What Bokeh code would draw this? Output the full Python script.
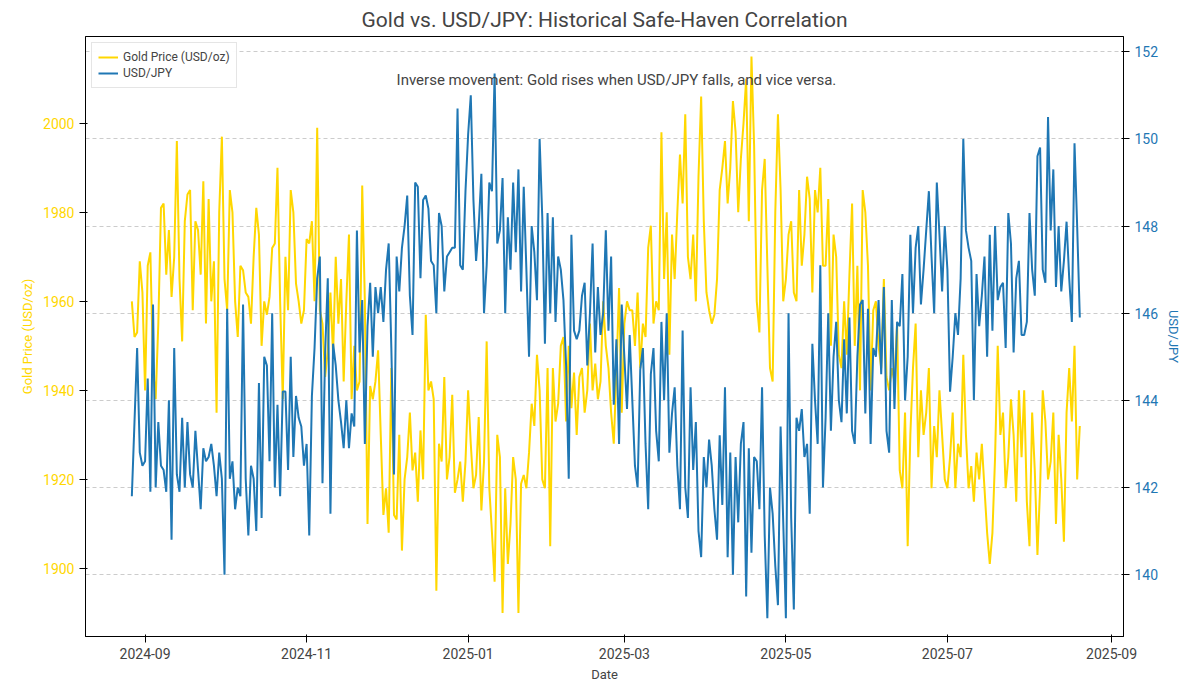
import datetime as dt
from bokeh.plotting import figure
from bokeh.models import (LinearAxis, Range1d, Legend, LegendItem, Label, Grid,
                          DatetimeTickFormatter, MonthsTicker, SingleIntervalTicker)
from bokeh.embed import file_html
from bokeh.resources import INLINE

start_date = dt.date(2024, 8, 27)

gold = (
 [1960,1952,1953,1969,1962,1940,1968,1971,1945,1938,1955,1981,1982,1966,1976,1961,1970,1996,1965,1951,1978,1984,1985,1958,1978,1976,1966,1987,1955,1983,1960,1969,1935,1980,1997]
 +[1965,1958,1985,1980,1960,1952,1968,1967,1962,1961,1955,1970,1981,1975,1950,1960,1957,1961,1972,1973,1990,1960,1938,1970,1958,1985,1980,1964,1960,1955,1958]
 +[1974,1973,1978,1960,1999,1958,1955,1943,1949,1962,1948,1970,1955,1965,1942,1960,1975,1938,1950,1940,1942,1986,1960,1910,1941,1938,1942,1949,1930,1912]
 +[1918,1908,1945,1912,1911,1930,1904,1920,1925,1935,1922,1926,1915,1931,1920,1957,1940,1942,1938,1895,1928,1924,1943,1920,1925,1939,1917,1920,1924,1915,1924]
 +[1940,1928,1918,1921,1934,1913,1924,1951,1918,1908,1897,1930,1925,1890,1918,1901,1910,1925,1920,1890,1919,1921,1918,1926,1937,1932,1948,1940,1920,1918,1945]
 +[1905,1945,1933,1937,1950,1952,1933,1950,1936,1944,1930,1943,1945,1935,1940,1955,1940,1946,1938,1942,1960,1950,1945,1935,1928,1944,1963,1935]
 +[1955,1960,1958,1958,1950,1962,1945,1955,1952,1972,1977,1955,1960,1958,1998,1965,1980,1948,1975,1965,1980,1993,1982,2002,1970,1965,1975,1960,1988,2006,1978]
 +[1962,1958,1955,1957,1965,1985,1990,1996,1982,1990,2005,1998,1980,1992,2000,2010,1978,2015,1995,1960,1953,1985,1992,1968,1945,1942,1980,2002,1985,1960]
 +[1965,1975,1978,1962,1960,1985,1968,1975,1988,1983,1962,1985,1980,1990,1968,1968,1983,1950,1975,1970,1948,1945,1960,1948,1966,1982,1950,1968,1940,1985,1980]
 +[1968,1940,1958,1960,1950,1945,1965,1943,1940,1945,1942,1955,1922,1918,1935,1905,1930,1945,1955,1925,1940,1930,1935,1945,1918,1932,1925,1940,1930,1920]
 +[1918,1925,1935,1918,1928,1925,1948,1930,1918,1923,1915,1926,1920,1928,1918,1908,1901,1908,1925,1950,1930,1935,1918,1925,1938,1930,1915,1940,1925,1940,1915]
 +[1905,1935,1922,1903,1918,1940,1933,1920,1924,1935,1910,1930,1920,1906,1935,1945,1933,1950,1920,1932]
)

usdjpy = (
 [141.8,143.5,145.2,142.8,142.5,142.6,144.5,141.9,146.2,142.0,143.5,142.5,142.4,141.9,144.0,140.8,145.2,142.3,141.9,143.6,142.0,143.5,142.3,142.0,143.3,142.4,141.5,142.9,142.6,142.7,143.0,142.5,141.8,142.8,142.2]
 +[140.0,146.1,142.2,142.6,141.5,142.0,141.8,146.2,142.2,140.9,142.5,142.2,141.0,144.4,141.3,145.0,144.8,142.6,146.0,142.0,143.9,141.8,144.2,144.2,142.4,145.0,142.7,144.1,143.6,143.4,142.5]
 +[143.0,140.9,144.1,145.2,146.8,147.3,142.1,145.1,146.8,141.4,145.3,144.8,144.0,143.5,142.9,144.0,142.9,143.7,143.4,147.9,145.1,146.3,143.0,145.7,146.7,145.0,146.6,146.0,146.6,145.8]
 +[147.0,147.6,145.2,142.3,147.3,146.5,147.5,148.0,148.7,146.4,145.5,149.0,148.9,146.8,148.6,148.7,148.4,147.2,147.1,146.0,148.3,148.0,146.5,147.3,147.4,147.5,147.5,150.7,147.1,147.0,148.8]
 +[150.1,151.0,148.6,147.2,148.0,149.2,146.0,147.1,149.0,148.8,151.5,147.6,147.9,149.1,146.0,148.2,147.0,149.0,147.4,149.3,146.5,148.9,147.0,145.0,148.0,147.4,146.3,150.0,148.2,145.3,148.3]
 +[146.0,148.2,145.8,147.3,147.0,146.3,144.8,142.2,147.8,145.6,145.4,145.6,146.4,146.7,144.8,146.0,147.6,145.1,146.6,145.5,146.0,147.9,145.6,147.3,143.9,145.4,143.0,146.2]
 +[145.0,143.8,145.5,144.0,142.5,142.0,144.7,145.2,143.0,141.5,144.6,145.2,143.3,142.6,145.8,144.0,146.0,142.8,143.7,144.3,142.5,141.5,145.6,142.0,141.3,144.3,142.4,143.5,141.0,140.4,142.7]
 +[142.0,143.1,142.5,141.5,140.8,143.2,141.6,144.3,140.4,142.8,140.0,142.7,141.2,143.0,143.5,139.5,142.9,140.5,142.7,142.6,141.5,144.3,140.9,139.0,142.0,141.4,140.2,139.3,143.4,141.2]
 +[139.0,146.0,141.3,139.2,143.6,143.3,143.8,142.7,143.0,141.4,145.3,144.0,143.0,147.1,142.0,143.6,146.0,143.3,145.0,145.8,144.0,143.5,145.4,143.7,145.9,143.3,143.0,145.0,146.2,146.3,143.7]
 +[146.1,143.0,145.2,145.0,146.3,144.6,146.6,143.3,142.8,146.3,143.8,145.8,145.7,146.9,144.0,145.0,147.8,146.0,147.5,148.0,146.2,147.0,147.9,148.8,147.3,146.0,149.0,147.8,146.5,148.0]
 +[147.0,144.2,145.0,146.0,145.5,146.8,150.0,147.9,147.5,147.2,144.0,146.9,145.7,146.4,147.3,145.0,147.8,145.6,148.0,146.3,146.6,146.7,145.2,148.3,147.6,145.1,146.8,147.2,145.5,145.5,145.8]
 +[148.3,147.0,146.4,149.6,149.8,147.0,146.7,150.5,147.9,149.3,146.6,148.0,146.5,147.2,148.1,146.8,145.8,149.9,148.0,145.9]
)

n = min(len(gold), len(usdjpy))
dates = [dt.datetime.combine(start_date, dt.time()) + dt.timedelta(days=i) for i in range(n)]
gold = gold[:n]; usdjpy = usdjpy[:n]

GOLD = "#FFD700"; BLUE = "#1f77b4"; FONT = "Roboto"

p = figure(width=1184, height=684, x_axis_type="datetime", output_backend="svg",
           toolbar_location=None,
           x_range=Range1d(dt.datetime(2024, 8, 9, 12), dt.datetime(2025, 9, 5, 12)),
           y_range=Range1d(1884.7, 2019.5),
           min_border_left=85, min_border_right=47, min_border_top=18, min_border_bottom=44)
p.title.text = "Gold vs. USD/JPY: Historical Safe-Haven Correlation"
p.title.align = "center"; p.title.text_font = FONT; p.title.text_font_size = "21px"
p.title.text_font_style = "normal"
p.extra_y_ranges = {"jpy": Range1d(138.58, 152.35)}
jpy_ticker = SingleIntervalTicker(interval=2)
ax2 = LinearAxis(y_range_name="jpy", axis_label="USD/JPY", ticker=jpy_ticker)
p.add_layout(ax2, "right")

p.xgrid.visible = False
p.ygrid.visible = False
p.add_layout(Grid(dimension=1, ticker=jpy_ticker, y_range_name="jpy",
                  grid_line_dash="4 3", grid_line_color="#cccccc"))

p.yaxis[0].ticker = SingleIntervalTicker(interval=20)
p.yaxis[0].axis_label = "Gold Price (USD/oz)"
p.xaxis.axis_label = "Date"
p.xaxis.ticker = MonthsTicker(months=[0, 2, 4, 6, 8, 10])
p.xaxis.formatter = DatetimeTickFormatter(months="%Y-%m", days="%Y-%m")
for ax in p.xaxis + p.yaxis:
    ax.major_label_text_font = FONT; ax.axis_label_text_font = FONT
    ax.major_label_text_font_size = "14px"; ax.axis_label_text_font_size = "13px"
    ax.axis_label_text_font_style = "normal"
    ax.minor_tick_line_color = None
p.yaxis[0].major_label_text_color = GOLD; p.yaxis[0].axis_label_text_color = GOLD
ax2.major_label_text_color = BLUE; ax2.axis_label_text_color = BLUE
p.outline_line_color = "black"

r1 = p.line(dates, gold, color=GOLD, line_width=2)
r2 = p.line(dates, usdjpy, color=BLUE, line_width=2, y_range_name="jpy")

leg = Legend(items=[LegendItem(label="Gold Price (USD/oz)", renderers=[r1]),
                    LegendItem(label="USD/JPY", renderers=[r2])],
             location="top_left", label_text_font=FONT, label_text_font_size="12px",
             border_line_color="#cccccc", spacing=0, padding=6, margin=6,
             label_height=16, glyph_height=16)
p.add_layout(leg)

p.add_layout(Label(x=dt.datetime(2025, 2, 26), y=2009.8, text_align="center",
                   text_baseline="middle",
                   text="Inverse movement: Gold rises when USD/JPY falls, and vice versa.",
                   text_font=FONT, text_font_size="15px"))

open("out.html", "w").write(file_html(p, INLINE))
